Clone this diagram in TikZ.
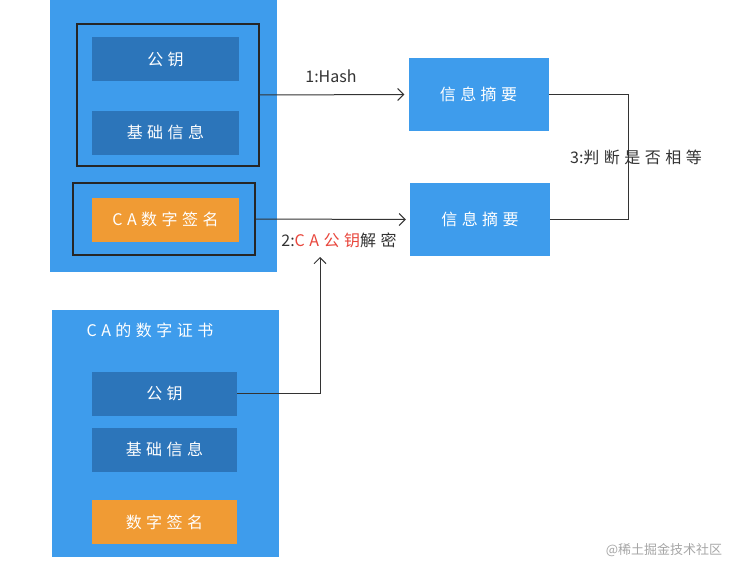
\documentclass[tikz,border=0pt]{standalone}
\usepackage{fontspec}
\newfontfamily\cjk[LetterSpace=28]{Noto Sans CJK SC}
\newfontfamily\lat{Noto Sans CJK SC}
\usetikzlibrary{arrows.meta}

\definecolor{paneblue}{RGB}{62,156,236}
\definecolor{fieldblue}{RGB}{44,117,186}
\definecolor{signorange}{RGB}{240,155,52}
\definecolor{keyred}{RGB}{232,70,60}

\tikzset{
	panel/.style={fill=paneblue, draw=none, minimum width=227, minimum height=#1},
	field/.style={fill=fieldblue, text=white, minimum width=147, minimum height=44,
		font=\cjk\fontsize{16}{18}\selectfont},
	signfield/.style={field, fill=signorange},
	group/.style={draw=black!85, line width=1.3pt, minimum width=182, minimum height=#1},
	digest/.style={fill=paneblue, text=white, minimum width=140, minimum height=73,
		font=\cjk\fontsize{16}{18}\selectfont},
	conn/.style={draw=black!80, line width=1pt},
	tag/.style={font=\cjk\fontsize{16}{18}\selectfont, text=black!80}
}

\begin{document}
\begin{tikzpicture}[x=1pt, y=-1pt]

	\useasboundingbox (0,0) rectangle (754,578);

	% Certificate on top
	\node[panel=272] (certtop) at (163.5,136) {};
	\node[group=142] (grpinfo) at (168,95) {};
	\node[group=72] (grpsig) at (164,219) {};
	\node[field] (pubtop) at (165.5,59) {公钥};
	\node[field] (infotop) at (165.5,132.5) {基础信息};
	\node[signfield] (sigtop) at (165.5,219.5) {CA数字签名};

	% Digests
	\node[digest] (digone) at (478.5,94.5) {信息摘要};
	\node[digest] (digtwo) at (480,219.5) {信息摘要};

	% CA certificate
	\node[panel=247] (certbot) at (165.5,433.5) {};
	\node[font=\cjk\fontsize{16}{18}\selectfont, text=white] (cattl) at (150,330) {CA的数字证书};
	\node[field, minimum width=145] (pubbot) at (164.5,393.5) {公钥};
	\node[field, minimum width=145] (infobot) at (164.5,449.5) {基础信息};
	\node[signfield, minimum width=145] (sigbot) at (164.5,522) {数字签名};

	% Connectors
	\coordinate (keyup) at (320,257);
	\draw[conn, -{Straight Barb[length=6pt, width=12pt]}, shorten >=4pt]
		(grpinfo.east) -- (digone.west);
	\draw[conn, -{Straight Barb[length=6pt, width=12pt]}, shorten >=4pt]
		(grpsig.east) -- (digtwo.west);
	\draw[conn, -{Straight Barb[length=6pt, width=12pt]}]
		(pubbot.east) -| (keyup);
	\draw[conn] (digone.east) -- ++(80,0) |- (digtwo.east);

	% Labels
	\node[tag] (lblhash) at (331,76) {\lat 1:Hash};
	\node[tag] (lbldec) at (339,240) {{\lat 2:}\textcolor{keyred}{CA公钥}解密};
	\node[tag] (lblcmp) at (636,157) {{\lat 3:}判断是否相等};
	\node[font=\lat\fontsize{13}{15}\selectfont, text=black!35] (mark) at (664,550) {@稀土掘金技术社区};

\end{tikzpicture}
\end{document}
